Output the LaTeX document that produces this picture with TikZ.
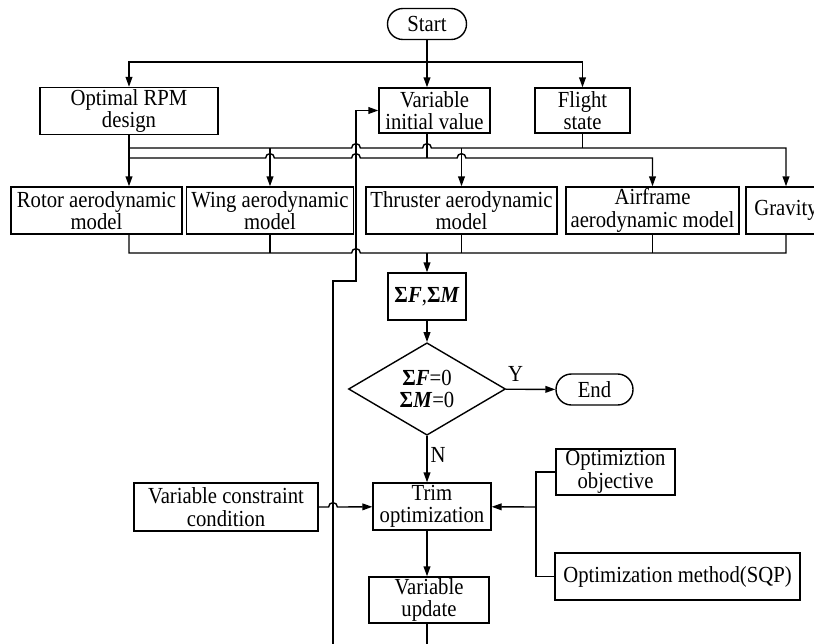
\documentclass[tikz,border=0pt]{standalone}
\usepackage{fontspec}
\setmainfont[FakeStretch=0.9]{Liberation Serif}
\usetikzlibrary{arrows.meta,shapes.geometric}

\begin{document}
\begin{tikzpicture}[x=0.5pt, y=-0.5pt, line width=0.7pt,
    font=\fontsize{11.5pt}{11.2pt}\selectfont,
    box/.style={draw, align=center, inner sep=0pt},
    term/.style={draw, rounded corners=7.7pt, inner sep=0pt},
    test/.style={draw, diamond, align=center, inner sep=0pt},
    arr/.style={-{Triangle[length=5pt, width=3.4pt]}}]
        \def \jr {2.2pt}

        \useasboundingbox (0,0) rectangle (814,643);
        \clip (0,0) rectangle (814,643);

        \node[term, minimum width=39.5pt, minimum height=15.5pt] (start) at (427,24) {Start};
        \node[box, minimum width=89pt, minimum height=23.5pt] (rpm) at (129,111) {Optimal RPM\\design};
        \node[box, minimum width=55.5pt, minimum height=22.5pt] (viv) at (434.5,110.5) {Variable\\initial value};
        \node[box, minimum width=47.5pt, minimum height=22.5pt] (fs) at (582.5,110.5) {Flight\\state};

        \node[box, minimum width=85.5pt, minimum height=23.5pt] (rot) at (96.5,210.5) {Rotor aerodynamic\\model};
        \node[box, minimum width=83.5pt, minimum height=23.5pt] (wing) at (270,210.5) {Wing aerodynamic\\model};
        \node[box, minimum width=95.5pt, minimum height=23.5pt] (thr) at (461.5,210.5) {Thruster aerodynamic\\model};
        \node[box, minimum width=86.5pt, minimum height=23.5pt] (air) at (652.5,210.5) {Airframe\\aerodynamic model};
        \node[box, minimum width=40pt, minimum height=23.5pt] (grav) at (786,210.5) {Gravity};

        \node[box, minimum width=39pt, minimum height=23.5pt] (sum) at (427,296.5) {\textbf{Σ\textit{F}},\textbf{Σ\textit{M}}};
        \node[test, minimum width=78.5pt, minimum height=38pt] (dia) at (427,389) {\textbf{Σ\textit{F}}=0\\\textbf{Σ\textit{M}}=0};
        \node[term, minimum width=38.5pt, minimum height=15.5pt] (end) at (594.5,389.5) {End};

        \node[box, minimum width=92pt, minimum height=24pt] (vcc) at (226,507) {Variable constraint\\condition};
        \node[box, minimum width=59pt, minimum height=23.5pt] (trim) at (432,506.5) {Trim\\optimization};
        \node[box, minimum width=59.5pt, minimum height=23pt] (obj) at (615.5,472) {Optimiztion\\objective};
        \node[box, minimum width=122.5pt, minimum height=23.5pt] (sqp) at (677.5,576.5) {Optimization method(SQP)};
        \node[box, minimum width=60pt, minimum height=23pt] (upd) at (429,600) {Variable\\update};

        \coordinate (t) at (427,62);
        \coordinate (a) at (129,148);
        \coordinate (b) at (129,158);
        \coordinate (c) at (427,253);
        \coordinate (k) at (536,507);

        % start to the three inputs
        \draw[arr] (start) -- (t) -| (rpm);
        \draw[arr] (t) -- (t |- viv.north);
        \draw[arr] (t) -| (fs);

        % upper and lower feed lines
        \draw[arr] (rpm) -- (rpm |- rot.north);
        \draw[arr] (a) -- (351.6,148) arc (180:0:\jr) -- (422.6,148) arc (180:0:\jr) -| (grav);
        \draw[arr] (b) -- (265.6,158) arc (180:0:\jr) -- (351.6,158) arc (180:0:\jr) -- (457.1,158) arc (180:0:\jr) -| (air);
        \draw (fs) -- (fs |- a);
        \draw (viv.south -| t) -- (t |- b);
        \draw[arr] (wing |- a) -- (wing);
        \draw[arr] (thr |- a) -- (thr);

        % collecting line
        \draw (rpm |- rot.south) |- (351.6,253) arc (180:0:\jr) -| (grav);
        \draw (wing) -- (wing |- c);
        \draw (thr) -- (thr |- c);
        \draw (air) -- (air |- c);
        \draw[arr] (c) -- (sum);

        \draw[arr] (sum) -- (dia);
        \draw[arr] (dia) -- node[above, pos=0.2] {Y} (end);
        \draw[arr] (dia.south) -- node[right, pos=0.4, inner sep=1.5pt] {N} (dia.south |- trim.north);
        \draw[arr] (vcc) -- (328.6,507) arc (180:0:\jr) -- (trim);
        \draw (obj) -| (k) |- (sqp);
        \draw[arr] (k) -- (trim);
        \draw[arr] (trim.south -| dia) -- (upd.north -| dia);
        \draw (upd.south -| dia) -- (427,660);

        % feedback to the initial value
        \draw[arr] (333,660) |- (356,281) |- (viv);
\end{tikzpicture}
\end{document}
